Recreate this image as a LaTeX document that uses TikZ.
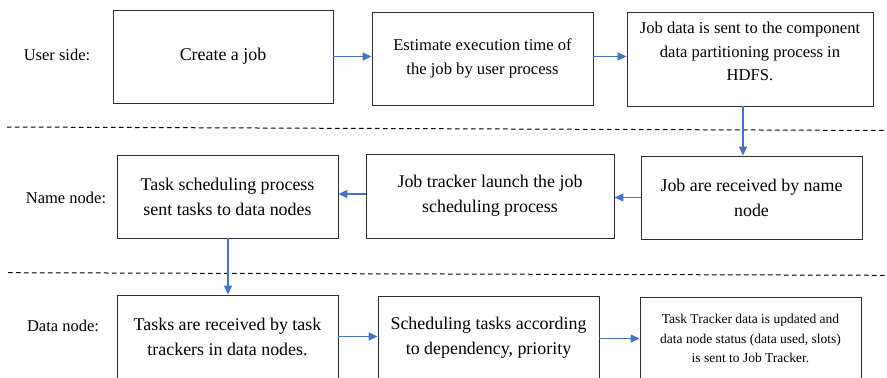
\documentclass[tikz,border=0pt]{standalone}
\usepackage{fontspec}
\IfFontExistsTF{LiberationSerif-Regular.ttf}
  {\newfontfamily\boxfont{LiberationSerif-Regular.ttf}}
  {\newfontfamily\boxfont{DejaVu Serif}}
\usetikzlibrary{arrows.meta}

\definecolor{flowblue}{RGB}{68,114,196}
\definecolor{edgegray}{RGB}{45,45,45}

\tikzset{
  procbox/.style={draw=edgegray, line width=0.9bp, fill=white, inner sep=0pt,
                  align=center, font=\boxfont\fontsize{17.9bp}{25bp}\selectfont},
  smalltext/.style={align=center, inner sep=0pt, font=\boxfont\fontsize{16.6bp}{23.3bp}\selectfont},
  tinytext/.style={align=center, inner sep=0pt, font=\boxfont\fontsize{13.5bp}{19.5bp}\selectfont},
  rowlabel/.style={inner sep=0pt, font=\boxfont\fontsize{16.5bp}{20bp}\selectfont},
  flow/.style={draw=flowblue, line width=1.5bp, -{Triangle[length=9bp,width=8bp]}},
  divider/.style={draw=black, line width=1bp, dash pattern=on 4.5bp off 3.5bp}
}

\begin{document}
\begin{tikzpicture}[x=1bp, y=-1bp]
\useasboundingbox (0,0) rectangle (887,377);

% lane dividers
\draw[divider] (7,127) -- (887,130.5);
\draw[divider] (8,272.7) -- (887,275.3);

% lane labels
\node[rowlabel] (lu) at (57,55) {User side:};
\node[rowlabel] (ln) at (66,198) {Name node:};
\node[rowlabel] (ld) at (63,326) {Data node:};

% user side
\node[procbox, minimum width=220bp, minimum height=93bp] (a) at (223,56.5) {Create a job};
\node[procbox, smalltext, minimum width=221bp, minimum height=93bp] (b) at (482.5,58.5)
  {Estimate execution time of\\the job by user process};
\node[procbox, minimum width=246bp, minimum height=94bp] (c) at (750,59) {};
\node[smalltext] (ct) at (750,51.5)
  {Job data is sent to the component\\data partitioning process in\\HDFS.};

% name node
\node[procbox, minimum width=221bp, minimum height=83bp] (d) at (227.5,196.5)
  {Task scheduling process\\sent tasks to data nodes};
\node[procbox, minimum width=248bp, minimum height=84bp] (e) at (490,196)
  {Job tracker launch the job\\scheduling process};
\node[procbox, minimum width=221bp, minimum height=83bp] (f) at (751.5,197.5)
  {Job are received by name\\node};

% data node
\node[procbox, minimum width=221bp, minimum height=83bp] (g) at (227.5,336.5)
  {Tasks are received by task\\trackers in data nodes.};
\node[procbox, minimum width=221bp, minimum height=83bp] (h) at (488.5,337.5)
  {Scheduling tasks according\\to dependency, priority};
\node[procbox, tinytext, minimum width=221bp, minimum height=83bp] (i) at (750.5,338.5)
  {Task Tracker data is updated and\\data node status (data used, slots)\\is sent to Job Tracker.};

% flow
\draw[flow] (a.east) -- (a.east -| b.west);
\draw[flow] ([yshift=2bp]b.east) -- ([yshift=2bp]b.east -| c.west);
\draw[flow] ([xshift=-7bp]c.south) -- ([xshift=-7bp]c.south |- f.north);
\draw[flow] (f.west) -- (f.west -| e.east);
\draw[flow] ([yshift=2bp]e.west) -- ([yshift=2bp]e.west -| d.east);
\draw[flow] ([xshift=0.5bp]d.south) -- ([xshift=0.5bp]d.south |- g.north);
\draw[flow] (g.east) -- (g.east -| h.west);
\draw[flow] ([yshift=-1bp]h.east) -- ([yshift=-1bp]h.east -| i.west);
\end{tikzpicture}
\end{document}
